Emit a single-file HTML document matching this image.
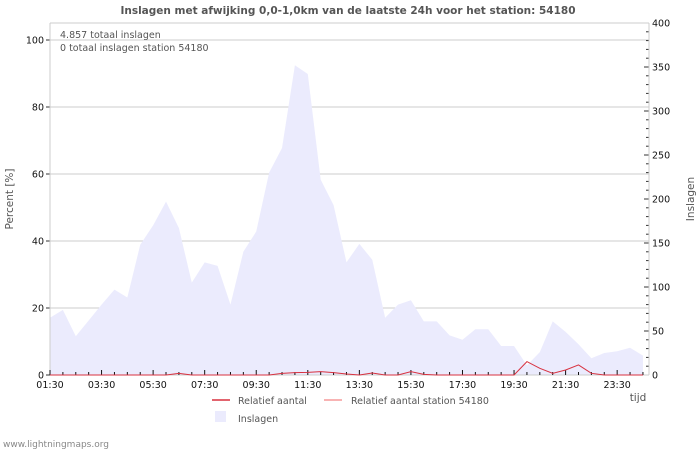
<!DOCTYPE html>
<html><head><meta charset="utf-8"><style>
body{margin:0;background:#fff;width:700px;height:450px;overflow:hidden;font-family:"Liberation Sans","DejaVu Sans",sans-serif}
</style></head><body>
<svg width="700" height="450" id="c" font-family="DejaVu Sans, Liberation Sans, sans-serif">
<text x="348" y="14" text-anchor="middle" font-size="10.5" font-weight="bold" fill="#555">Inslagen met afwijking 0,0-1,0km van de laatste 24h voor het station: 54180</text>
<g id="grid"></g>
<g id="area"></g>
<g id="axes"></g>
<g id="lines"></g>
<text x="60" y="38" font-size="9.5" fill="#555">4.857 totaal inslagen</text>
<text x="60" y="51" font-size="9.5" fill="#555">0 totaal inslagen station 54180</text>
<text x="13" y="199" font-size="10.5" fill="#555" transform="rotate(-90 13 199)" text-anchor="middle">Percent   [%]</text>
<text x="694" y="199" font-size="10.5" fill="#555" transform="rotate(-90 694 199)" text-anchor="middle">Inslagen</text>
<text x="638" y="401" font-size="10.5" fill="#555" text-anchor="middle">tijd</text>
<g>
<line x1="212" y1="400" x2="230" y2="400" stroke="#d8313f" stroke-width="1.5"/>
<text x="238" y="404" font-size="9.5" fill="#555">Relatief aantal</text>
<line x1="324" y1="400" x2="342" y2="400" stroke="#f59a9a" stroke-width="1.5"/>
<text x="351" y="404" font-size="9.5" fill="#555">Relatief aantal station 54180</text>
<rect x="215" y="411" width="11" height="11" fill="#ebebfd"/>
<text x="238" y="422" font-size="9.5" fill="#555">Inslagen</text>
</g>
<text x="3" y="447" font-size="9" fill="#888">www.lightningmaps.org</text>
</svg>
<script>
const timeLabels=["01:30","03:30","05:30","07:30","09:30","11:30","13:30","15:30","17:30","19:30","21:30","23:30"];
const strikes=[65,74,44,62,80,97,88,148,170,197,167,105,128,124,80,140,163,230,258,352,342,222,193,128,149,131,65,80,85,61,61,45,40,52,52,33,33,11,26,61,49,35,19,25,27,31,22];
const relatief=[0,0,0,0,0,0,0,0,0,0,0.5,0,0,0,0,0,0,0,0.5,0.7,0.8,1,0.7,0.3,0,0.6,0,0,1,0.2,0,0,0,0,0,0,0,4,2,0.5,1.5,3,0.5,0,0,0,0];
const leftTicks=[0,20,40,60,80,100];
const rightTicks=[0,50,100,150,200,250,300,350,400];
const NS="http://www.w3.org/2000/svg";
const L=50,R=649,T=23,B=375,X0=50,STEP=12.89;
const xS=i=>X0+i*STEP;
const yL=v=>B-v*3.35;
const yR=v=>B-v*0.88;
function mk(t,a,p){const e=document.createElementNS(NS,t);for(const k in a)e.setAttribute(k,a[k]);p.appendChild(e);return e;}
const grid=document.getElementById('grid'),axes=document.getElementById('axes'),area=document.getElementById('area'),lines=document.getElementById('lines');
leftTicks.forEach(v=>{
 const g=mk('line',{x1:L,x2:R,y1:yL(v),y2:yL(v),stroke:'#ccc','stroke-width':1},grid);
 
 
 const t=mk('text',{x:L-6,y:yL(v)+3.5,'font-size':9.5,'text-anchor':'end',fill:'#111'},axes);t.textContent=v;
 
 
 mk('line',{x1:L-4,x2:L,y1:yL(v),y2:yL(v),stroke:'#333'},axes);
});
for(let v=0;v<=400;v+=10){mk('line',{x1:R-(v%50==0?5:3),x2:R,y1:yR(v),y2:yR(v),stroke:'#333'},axes);}
rightTicks.forEach(v=>{const t=mk('text',{x:R+3,y:yR(v)+3.5,'font-size':9.5,fill:'#111'},axes);t.textContent=v;
 
 });
let d='M'+xS(0)+','+B;
strikes.forEach((v,i)=>{d+=' L'+xS(i)+','+yR(v);});
d+=' L'+xS(strikes.length-1)+','+B+' Z';
const a=mk('path',{d:d,fill:'#ebebfd'},area);


mk('line',{x1:L,x2:R,y1:T,y2:T,stroke:'#ccc'},axes);
mk('line',{x1:L,x2:L,y1:T,y2:B,stroke:'#ccc'},axes);
mk('line',{x1:R,x2:R,y1:T,y2:B,stroke:'#ccc'},axes);
mk('line',{x1:L,x2:R,y1:B,y2:B,stroke:'#ccc'},axes);
for(let i=0;i<strikes.length;i++){const maj=i%4==0;mk('line',{x1:xS(i),x2:xS(i),y1:B-(maj?5:3),y2:B,stroke:'#111'},axes);}
timeLabels.forEach((s,k)=>{const t=mk('text',{x:xS(k*4),y:B+13,'font-size':9.5,'text-anchor':'middle',fill:'#111'},axes);t.textContent=s;
 
 });
const p=mk('polyline',{points:relatief.map((v,i)=>xS(i)+','+yL(v)).join(' '),fill:'none',stroke:'#d8313f','stroke-width':1},lines);


</script>
</body></html>
